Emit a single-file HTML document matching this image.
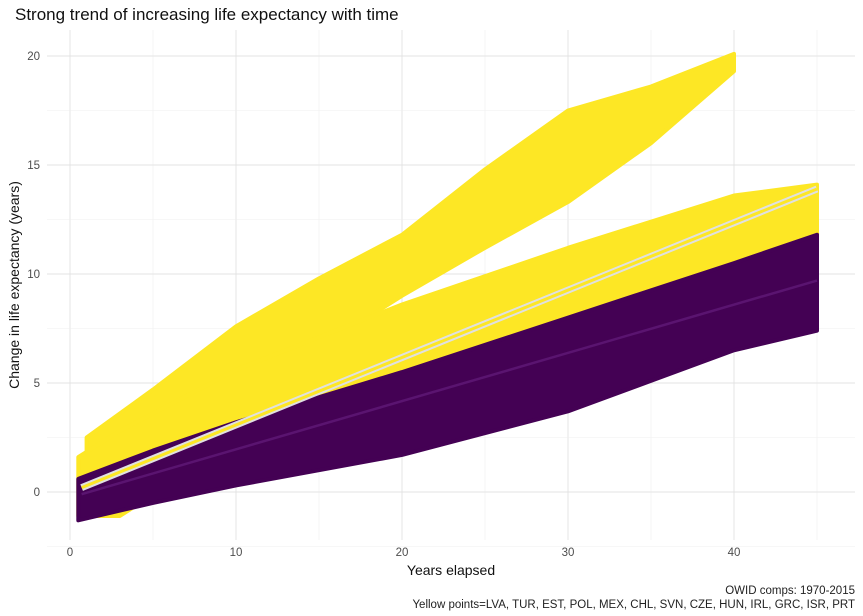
<!DOCTYPE html>
<html><head><meta charset="utf-8">
<style>
body{margin:0;background:#fff;}
svg{display:block;font-family:"Liberation Sans",sans-serif;}
</style></head>
<body>
<svg id="chart" width="863" height="616">
<text x="15" y="20" font-size="17" fill="#111">Strong trend of increasing life expectancy with time</text>
<g id="grid"></g>
<g id="marks"></g>
<g id="axes"></g>
<text x="451" y="575" font-size="14" text-anchor="middle" fill="#111">Years elapsed</text>
<text transform="translate(19,285) rotate(-90)" font-size="14" text-anchor="middle" fill="#111">Change in life expectancy (years)</text>
<text x="855" y="594" font-size="11.5" text-anchor="end" fill="#222">OWID comps: 1970-2015</text>
<text x="855" y="608" font-size="11.5" text-anchor="end" fill="#222">Yellow points=LVA, TUR, EST, POL, MEX, CHL, SVN, CZE, HUN, IRL, GRC, ISR, PRT</text>
</svg>
<script>
const xTicks=[0,10,20,30,40];
const yTicks=[0,5,10,15,20];
// envelopes: x, lower, upper
const topX=[1,5,10,15,20,25,30,35,40];
const topLo=[0.5,2,4.4,6.6,9,11.2,13.3,16,19.3];
const topHi=[2.5,4.7,7.6,9.8,11.8,14.8,17.5,18.6,20.1];
const midX=[0.5,3,10,20,30,40,45];
const midLo=[-1.1,-1.1,2.3,5,7.3,9.3,10];
const midHi=[1.6,2.8,5.6,8.6,11.2,13.6,14.1];
const purX=[0.5,5,10,20,30,40,45];
const purLo=[-1.3,-0.5,0.3,1.7,3.7,6.5,7.4];
const purHi=[0.6,1.9,3.2,5.5,8.0,10.5,11.8];
const yelLineX=[0.7,45]; const yelLineY=[0.2,13.9];
const purLineX=[0.7,45]; const purLineY=[-0.1,9.7];
const x=v=>70+v*16.6, y=v=>492-v*21.8;
const NS='http://www.w3.org/2000/svg';
const grid=document.getElementById('grid'),marks=document.getElementById('marks'),axes=document.getElementById('axes');
function mk(tag,attrs,parent){const e=document.createElementNS(NS,tag);for(const k in attrs)e.setAttribute(k,attrs[k]);parent.appendChild(e);return e;}
for(let v=0;v<=45;v+=5){const g=mk('line',{x1:x(v),x2:x(v),y1:30,y2:540,stroke:v%10?'#f0f0f0':'#e3e3e3','stroke-width':v%10?0.6:0.9},grid);

}
for(let v=-2.5;v<=20;v+=2.5){const g=mk('line',{x1:47,x2:855,y1:y(v),y2:y(v),stroke:v%5?'#f0f0f0':'#e3e3e3','stroke-width':v%5?0.6:0.9},grid);

}
xTicks.forEach(v=>{const t=mk('text',{x:x(v),y:556,'font-size':11.5,'text-anchor':'middle',fill:'#4d4d4d'},axes);t.textContent=v;

});
yTicks.forEach(v=>{const t=mk('text',{x:40,y:y(v)+4,'font-size':11.5,'text-anchor':'end',fill:'#4d4d4d'},axes);t.textContent=v;

});
function band(xs,lo,hi,col,name){let p=xs.map((v,i)=>x(v)+','+y(lo[i]));for(let i=xs.length-1;i>=0;i--)p.push(x(xs[i])+','+y(hi[i]));
const e=mk('polygon',{points:p.join(' '),fill:col,stroke:col,'stroke-width':4,'stroke-linejoin':'round'},marks);

}
band(topX,topLo,topHi,'#FDE725','yellow-upper-band');
band(midX,midLo,midHi,'#FDE725','yellow-middle-band');
band(purX,purLo,purHi,'#440154','purple-band');
const yl=mk('line',{x1:x(yelLineX[0]),y1:y(yelLineY[0]),x2:x(yelLineX[1]),y2:y(yelLineY[1]),stroke:'#e0e0e0','stroke-width':7},marks);


const yl2=mk('line',{x1:x(yelLineX[0]),y1:y(yelLineY[0]),x2:x(yelLineX[1]),y2:y(yelLineY[1]),stroke:'#FDE725','stroke-width':3},marks);


const pl=mk('line',{x1:x(purLineX[0]),y1:y(purLineY[0]),x2:x(purLineX[1]),y2:y(purLineY[1]),stroke:'#5a1470','stroke-width':2.5},marks);


</script>
</body></html>
